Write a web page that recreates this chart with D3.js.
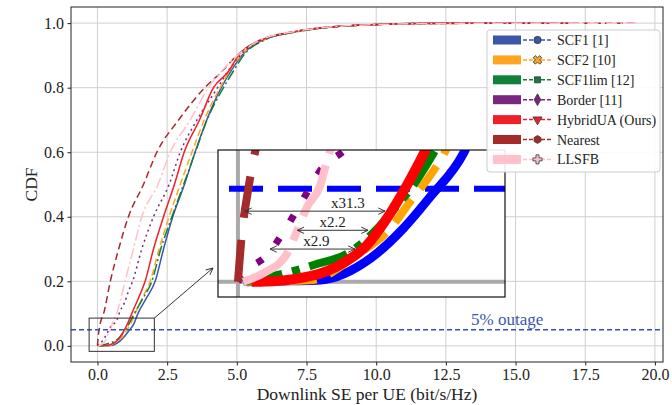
<!DOCTYPE html>
<html>
<head>
<meta charset="utf-8">
<script src="https://cdn.jsdelivr.net/npm/d3@7"></script>
<style>
  body { margin: 0; background: #fff; }
  svg text { font-family: "Liberation Serif", "Times New Roman", serif; }
  .axis text { font-size: 16px; fill: #222; font-family: "Liberation Serif", serif; }
  .axis path, .axis line { stroke: #222; }
</style>
</head>
<body>
<svg id="chart"></svg>
<script>
// ---- data (x = SE in bit/s/Hz, y = CDF) ----
const names = ['SCF1 [1]', 'SCF2 [10]', 'SCF1lim [12]', 'Border [11]', 'HybridUA (Ours)', 'Nearest', 'LLSFB'];

const scf1 = [[0.05,0],[0.3,0.0005],[0.48,0.001],[0.77,0.0126],[0.96,0.0286],[1.12,0.046],[1.31,0.069],[1.45,0.1],
  [1.77,0.15],[2.07,0.2],[2.37,0.3],[2.7,0.4],[3.12,0.5],[3.5,0.6],[3.92,0.7],[4.44,0.8],[4.85,0.86],[5.18,0.9],
  [6.0,0.95],[6.9,0.97],[7.6,0.98],[8.7,0.99],[9.8,0.995],[11.3,0.999],[13.5,1.0]];
const scf2 = [[0.05,0],[0.42,0.0008],[0.69,0.0144],[0.885,0.0286],[1.0,0.043],[1.1,0.055],[1.19,0.0676],[1.35,0.1],
  [1.62,0.15],[1.89,0.2],[2.21,0.3],[2.57,0.4],[2.97,0.5],[3.39,0.6],[3.83,0.7],[4.4,0.8],[4.8,0.86],[5.15,0.9],
  [6.0,0.95],[6.9,0.97],[7.6,0.98],[8.7,0.99],[9.8,0.995],[11.3,0.999],[14.0,1.0]];
const scf1lim = [[0.03,0],[0.19,0.0028],[0.44,0.009],[0.65,0.016],[0.81,0.0286],[0.94,0.0427],[1.01,0.0507],[1.11,0.065],
  [1.32,0.1],[1.65,0.15],[1.95,0.2],[2.27,0.3],[2.67,0.4],[3.09,0.5],[3.51,0.6],[3.93,0.7],[4.52,0.8],[4.94,0.86],
  [5.24,0.9],[6.05,0.95],[6.95,0.97],[7.65,0.98],[8.75,0.99],[9.8,0.995],[11.3,0.999],[13.0,1.0]];
const border = [[0.0,0],[0.04,0.005],[0.17,0.0144],[0.28,0.029],[0.37,0.043],[0.47,0.0587],[0.7,0.081],[0.81,0.107],
  [0.99,0.138],[1.09,0.164],[1.26,0.2],[1.59,0.3],[2.01,0.4],[2.57,0.5],[2.97,0.6],[3.57,0.7],[4.31,0.8],[4.75,0.86],
  [5.12,0.9],[6.0,0.95],[6.9,0.97],[7.6,0.98],[8.7,0.99],[9.8,0.995],[11.8,0.999],[15.5,1.0]];
const hybrid = [[0.08,0],[0.13,0.0],[0.42,0.003],[0.61,0.01],[0.75,0.0197],[0.865,0.034],[0.98,0.0516],[1.08,0.069],
  [1.23,0.1],[1.48,0.15],[1.71,0.2],[2.01,0.3],[2.37,0.4],[2.76,0.5],[3.11,0.6],[3.66,0.7],[4.16,0.8],[4.7,0.85],
  [5.06,0.9],[5.95,0.95],[6.85,0.97],[7.55,0.98],[8.65,0.99],[9.8,0.995],[11.5,0.999],[17.0,1.0]];
const nearest = [[0.0,0],[0.02,0.023],[0.06,0.05],[0.1,0.07],[0.22,0.1],[0.46,0.2],[0.76,0.3],[1.11,0.4],[1.65,0.5],
  [2.13,0.6],[2.91,0.7],[3.85,0.8],[4.46,0.85],[5.0,0.9],[5.9,0.95],[6.8,0.97],[7.5,0.98],[8.6,0.99],[9.8,0.995],
  [12.0,0.999],[19.3,1.0]];
const llsfb = [[0.03,0],[0.147,0.0046],[0.28,0.0144],[0.345,0.0277],[0.4,0.04],[0.477,0.0516],[0.52,0.066],[0.69,0.1],
  [0.85,0.15],[0.99,0.2],[1.29,0.3],[1.59,0.4],[2.17,0.5],[2.61,0.6],[3.33,0.7],[3.98,0.8],[4.55,0.86],[5.02,0.9],
  [5.9,0.95],[6.8,0.97],[7.5,0.98],[8.6,0.99],[9.8,0.995],[12.0,0.999],[19.4,1.0]];

const xTicks = [0, 2.5, 5, 7.5, 10, 12.5, 15, 17.5, 20];
const yTicks = [0, 0.2, 0.4, 0.6, 0.8, 1.0];
const outage = 0.05;
// zoom annotations: [x from, x to, y, label]
const ratios = [[0.04, 0.855, 0.038, 'x31.3'], [0.345, 0.756, 0.0277, 'x2.2'], [0.186, 0.68, 0.0176, 'x2.9']];

const series = [scf1, scf2, scf1lim, border, hybrid, nearest, llsfb];
const colors = ['#3a57a8', '#ffa520', '#11803b', '#7b2581', '#ef2029', '#a52a2a', '#ffc0cb'];
const insetColors = ['#0000ff', '#ffa500', '#008000', '#800080', '#ff0000', '#a52a2a', '#ffc0cb'];
const dashes = [null, '7,3.5', '11,3,2,3', '2,3.5', null, '7,4', '11,3,2,3'];
const insetDashes = [null, '28,14', '40,10,8,10', '7,20', null, '42,22', '56,12,14,12'];
const insetWidths = [9, 8, 8, 7, 10, 8, 8];
const ratioLabelShift = [33, 0, 4];

const W = 672, H = 405;
const margin = {top: 7, right: 9, bottom: 43, left: 71};
const width = W - margin.left - margin.right;
const height = H - margin.top - margin.bottom;

const svg = d3.select('#chart').attr('width', W).attr('height', H);
const chart = svg.append('g').attr('transform', `translate(${margin.left},${margin.top})`);

const x = d3.scaleLinear().domain([-0.95, 20.29]).range([0, width]);
const y = d3.scaleLinear().domain([-0.05, 1.05]).range([height, 0]);

// grid
chart.append('g').selectAll('line').data(xTicks).join('line')
  .attr('x1', d => x(d)).attr('x2', d => x(d)).attr('y1', 0).attr('y2', height)
  .attr('stroke', '#cfcfcf').attr('stroke-width', 1);
chart.append('g').selectAll('line').data(yTicks).join('line')
  .attr('y1', d => y(d)).attr('y2', d => y(d)).attr('x1', 0).attr('x2', width)
  .attr('stroke', '#cfcfcf').attr('stroke-width', 1);

const line = (xs, ys) => d3.line().x(d => xs(d[0])).y(d => ys(d[1])).curve(d3.curveMonotoneX);

chart.append('defs').append('clipPath').attr('id', 'mainClip')
  .append('rect').attr('width', width).attr('height', height);

const curves = chart.append('g').attr('clip-path', 'url(#mainClip)');
series.forEach((s, i) => {
  curves.append('path').datum(s)
    .attr('d', line(x, y))
    .attr('fill', 'none')
    .attr('stroke', colors[i])
    .attr('stroke-width', 1.5)
    .attr('stroke-dasharray', dashes[i]);
});

// 5% outage
chart.append('line')
  .attr('x1', 0).attr('x2', width).attr('y1', y(outage)).attr('y2', y(outage))
  .attr('stroke', '#2f50c0').attr('stroke-width', 1.3).attr('stroke-dasharray', '5,3');
chart.append('text')
  .attr('x', x(14.7)).attr('y', y(outage) - 5)
  .attr('text-anchor', 'middle').attr('font-size', 17).attr('fill', '#3a57b0')
  .text('5% outage');

// axes
const xAxis = d3.axisBottom(x).tickValues(xTicks).tickFormat(d3.format('.1f')).tickSize(3.5).tickPadding(3.5);
const yAxis = d3.axisLeft(y).tickValues(yTicks).tickFormat(d3.format('.1f')).tickSize(3.5).tickPadding(3.5);
chart.append('g').attr('class', 'axis').attr('transform', `translate(0,${height})`).call(xAxis)
  .call(g => g.select('.domain').remove());
chart.append('g').attr('class', 'axis').call(yAxis)
  .call(g => g.select('.domain').remove());
chart.append('rect').attr('width', width).attr('height', height)
  .attr('fill', 'none').attr('stroke', '#222').attr('stroke-width', 1);

svg.append('text')
  .attr('x', margin.left + width / 2).attr('y', H - 5)
  .attr('text-anchor', 'middle').attr('font-size', 17.5).attr('fill', '#222')
  .text('Downlink SE per UE (bit/s/Hz)');
svg.append('text')
  .attr('transform', `translate(37,${margin.top + height / 2}) rotate(-90)`)
  .attr('text-anchor', 'middle').attr('font-size', 17.5).attr('fill', '#222')
  .text('CDF');

// zoomed region marker in main plot
const zoomBox = {x0: -0.3, x1: 2.04, y0: -0.017, y1: 0.086};
chart.append('rect')
  .attr('x', x(zoomBox.x0)).attr('y', y(zoomBox.y1))
  .attr('width', x(zoomBox.x1) - x(zoomBox.x0)).attr('height', y(zoomBox.y0) - y(zoomBox.y1))
  .attr('fill', 'none').attr('stroke', '#333').attr('stroke-width', 1);

const defs = svg.append('defs');
defs.append('marker').attr('id', 'head').attr('viewBox', '0 0 10 10')
  .attr('refX', 9.5).attr('refY', 5).attr('markerWidth', 8).attr('markerHeight', 8)
  .attr('markerUnits', 'userSpaceOnUse').attr('orient', 'auto-start-reverse')
  .append('path').attr('d', 'M1,1 L9.5,5 L1,9').attr('fill', 'none').attr('stroke', '#333').attr('stroke-width', 1.2);

// inset axes
const inset = {left: 218, top: 150, right: 505, bottom: 297};
const ix = d3.scaleLinear().domain([-0.116, 1.552]).range([inset.left, inset.right]);
const iy = d3.scaleLinear().domain([-0.0082, 0.0709]).range([inset.bottom, inset.top]);

svg.append('line')
  .attr('x1', margin.left + x(zoomBox.x1)).attr('y1', margin.top + y(zoomBox.y1))
  .attr('x2', 213).attr('y2', 268)
  .attr('stroke', '#333').attr('stroke-width', 1).attr('marker-end', 'url(#head)');

defs.append('clipPath').attr('id', 'insetClip').append('rect')
  .attr('x', inset.left).attr('y', inset.top)
  .attr('width', inset.right - inset.left).attr('height', inset.bottom - inset.top);

const ig = svg.append('g');
ig.append('rect')
  .attr('x', inset.left).attr('y', inset.top)
  .attr('width', inset.right - inset.left).attr('height', inset.bottom - inset.top)
  .attr('fill', '#fff');
const ic = ig.append('g').attr('clip-path', 'url(#insetClip)');
ic.append('line').attr('x1', ix(0)).attr('x2', ix(0)).attr('y1', inset.top).attr('y2', inset.bottom)
  .attr('stroke', '#aaa').attr('stroke-width', 4);
ic.append('line').attr('y1', iy(0)).attr('y2', iy(0)).attr('x1', inset.left).attr('x2', inset.right)
  .attr('stroke', '#aaa').attr('stroke-width', 4);
ic.append('line').attr('y1', iy(outage)).attr('y2', iy(outage)).attr('x1', inset.left).attr('x2', inset.right)
  .attr('stroke', '#0000ff').attr('stroke-width', 6)
  .attr('stroke-dasharray', '34,15').attr('stroke-dashoffset', 38);
series.forEach((s, i) => {
  ic.append('path').datum(s)
    .attr('d', line(ix, iy))
    .attr('fill', 'none')
    .attr('stroke', insetColors[i])
    .attr('stroke-width', insetWidths[i])
    .attr('stroke-dasharray', insetDashes[i]);
});
ratios.forEach((r, i) => {
  ic.append('line')
    .attr('x1', ix(r[0])).attr('x2', ix(r[1])).attr('y1', iy(r[2])).attr('y2', iy(r[2]))
    .attr('stroke', '#333').attr('stroke-width', 1)
    .attr('marker-start', 'url(#head)').attr('marker-end', 'url(#head)');
  ic.append('text')
    .attr('x', (ix(r[0]) + ix(r[1])) / 2 + ratioLabelShift[i]).attr('y', iy(r[2]) - 3)
    .attr('text-anchor', 'middle').attr('font-size', 15).attr('fill', '#222')
    .text(r[3]);
});
ig.append('rect')
  .attr('x', inset.left).attr('y', inset.top)
  .attr('width', inset.right - inset.left).attr('height', inset.bottom - inset.top)
  .attr('fill', 'none').attr('stroke', '#111').attr('stroke-width', 1.2);

// legend
const legend = svg.append('g').attr('transform', 'translate(487,30)');
legend.append('rect').attr('width', 173).attr('height', 142).attr('rx', 3)
  .attr('fill', '#fff').attr('fill-opacity', 0.9).attr('stroke', '#ccc');
const hexagon = {draw(ctx, size) {
  const r = Math.sqrt(size / 2.6);
  for (let k = 0; k < 6; k++) {
    const a = Math.PI / 3 * k + Math.PI / 6;
    k ? ctx.lineTo(r * Math.cos(a), r * Math.sin(a)) : ctx.moveTo(r * Math.cos(a), r * Math.sin(a));
  }
  ctx.closePath();
}};
const symbols = [
  [d3.symbolCircle, 42, 0], [d3.symbolCross, 46, 45], [d3.symbolSquare, 36, 0], [d3.symbolDiamond, 40, 0],
  [d3.symbolTriangle, 36, 180], [hexagon, 40, 0], [d3.symbolCross, 46, 0]
];
names.forEach((n, i) => {
  const row = legend.append('g').attr('transform', `translate(0,${10 + i * 19.9})`);
  row.append('rect').attr('x', 6).attr('y', -4.5).attr('width', 28).attr('height', 9).attr('fill', colors[i]);
  row.append('line').attr('x1', 36).attr('x2', 65).attr('y1', 0).attr('y2', 0)
    .attr('stroke', colors[i]).attr('stroke-width', 1.5).attr('stroke-dasharray', '4,2');
  row.append('path')
    .attr('d', d3.symbol().type(symbols[i][0]).size(symbols[i][1])())
    .attr('transform', `translate(50.5,0) rotate(${symbols[i][2]})`)
    .attr('fill', colors[i]).attr('stroke', '#333').attr('stroke-width', 0.8);
  row.append('text').attr('x', 70).attr('y', 5).attr('font-size', 14).attr('fill', '#222').text(n);
});
</script>
</body>
</html>
